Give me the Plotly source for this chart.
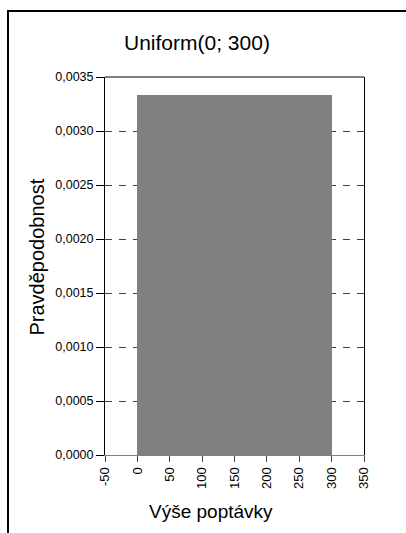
import plotly.graph_objects as go

# Data
dist_lower = [0]
dist_upper = [300]
density = [0.0033333]
x_ticks = [-50, 0, 50, 100, 150, 200, 250, 300, 350]
y_ticks = [0.0000, 0.0005, 0.0010, 0.0015, 0.0020, 0.0025, 0.0030, 0.0035]
title_text = "Uniform(0; 300)"
x_title = "Výše poptávky"
y_title = "Pravděpodobnost"

FONT = "Liberation Sans, Arial, sans-serif"

W, H = 406, 533
L, R, T, B = 105, 42, 77, 78
pw, ph = W - L - R, H - T - B

def px_x(px):
    return (px - L) / pw

def px_y(py):
    return (H - B - py) / ph

centers = [(a + b) / 2 for a, b in zip(dist_lower, dist_upper)]
widths = [b - a for a, b in zip(dist_lower, dist_upper)]

fig = go.Figure()
fig.add_trace(go.Bar(
    x=centers, y=density, width=widths,
    marker=dict(color="#808080", line=dict(width=0)),
    hoverinfo="skip", showlegend=False,
))

fig.update_layout(
    width=W, height=H,
    margin=dict(l=L, r=R, t=T, b=B, pad=0),
    paper_bgcolor="white", plot_bgcolor="white",
    separators=", ",
    font=dict(family=FONT, color="black", size=13),
    showlegend=False,
    bargap=0,
)

fig.update_xaxes(
    range=[-50, 350], tickmode="array", tickvals=x_ticks,
    ticktext=[str(v) for v in x_ticks],
    tickangle=-90, ticks="outside", ticklen=6, tickcolor="#404040", tickwidth=1,
    showline=True, linecolor="#808080", linewidth=1, mirror=False,
    showgrid=False, zeroline=False,
    tickfont=dict(family=FONT, size=13, color="black"),
)
fig.update_yaxes(
    range=[0, 0.0035], tickmode="array", tickvals=y_ticks, tickformat=".4f",
    ticks="outside", ticklen=8, tickcolor="black", tickwidth=1,
    showline=True, linecolor="black", linewidth=1, mirror=True,
    showgrid=True, gridcolor="#404040", gridwidth=1, griddash="7px,7px",
    zeroline=False,
    tickfont=dict(family=FONT, size=12.5, color="black"),
)

# top frame line of plot area
fig.add_shape(type="line", xref="paper", yref="paper", x0=0, x1=1, y0=1, y1=1,
              line=dict(color="black", width=1), layer="above")
# outer chart frame (partly cut off by image edge)
fig.add_shape(type="rect", xref="paper", yref="paper",
              x0=px_x(8), x1=px_x(425), y0=px_y(11), y1=px_y(550),
              line=dict(color="black", width=2), fillcolor="rgba(0,0,0,0)", layer="above")

fig.add_annotation(text=title_text, xref="paper", yref="paper",
                   x=px_x(196.5), y=px_y(42), xanchor="center", yanchor="middle",
                   showarrow=False, font=dict(family=FONT, size=21, color="black"))
fig.add_annotation(text=x_title, xref="paper", yref="paper",
                   x=px_x(211), y=px_y(511), xanchor="center", yanchor="middle",
                   showarrow=False, font=dict(family=FONT, size=19, color="black"))
fig.add_annotation(text=y_title, xref="paper", yref="paper",
                   x=px_x(36), y=px_y(257.5), xanchor="center", yanchor="middle",
                   textangle=-90,
                   showarrow=False, font=dict(family=FONT, size=20, color="black"))

fig.write_html("out.html", config={"displayModeBar": False},
               post_script="document.body.style.margin='0';document.body.style.padding='0';")
